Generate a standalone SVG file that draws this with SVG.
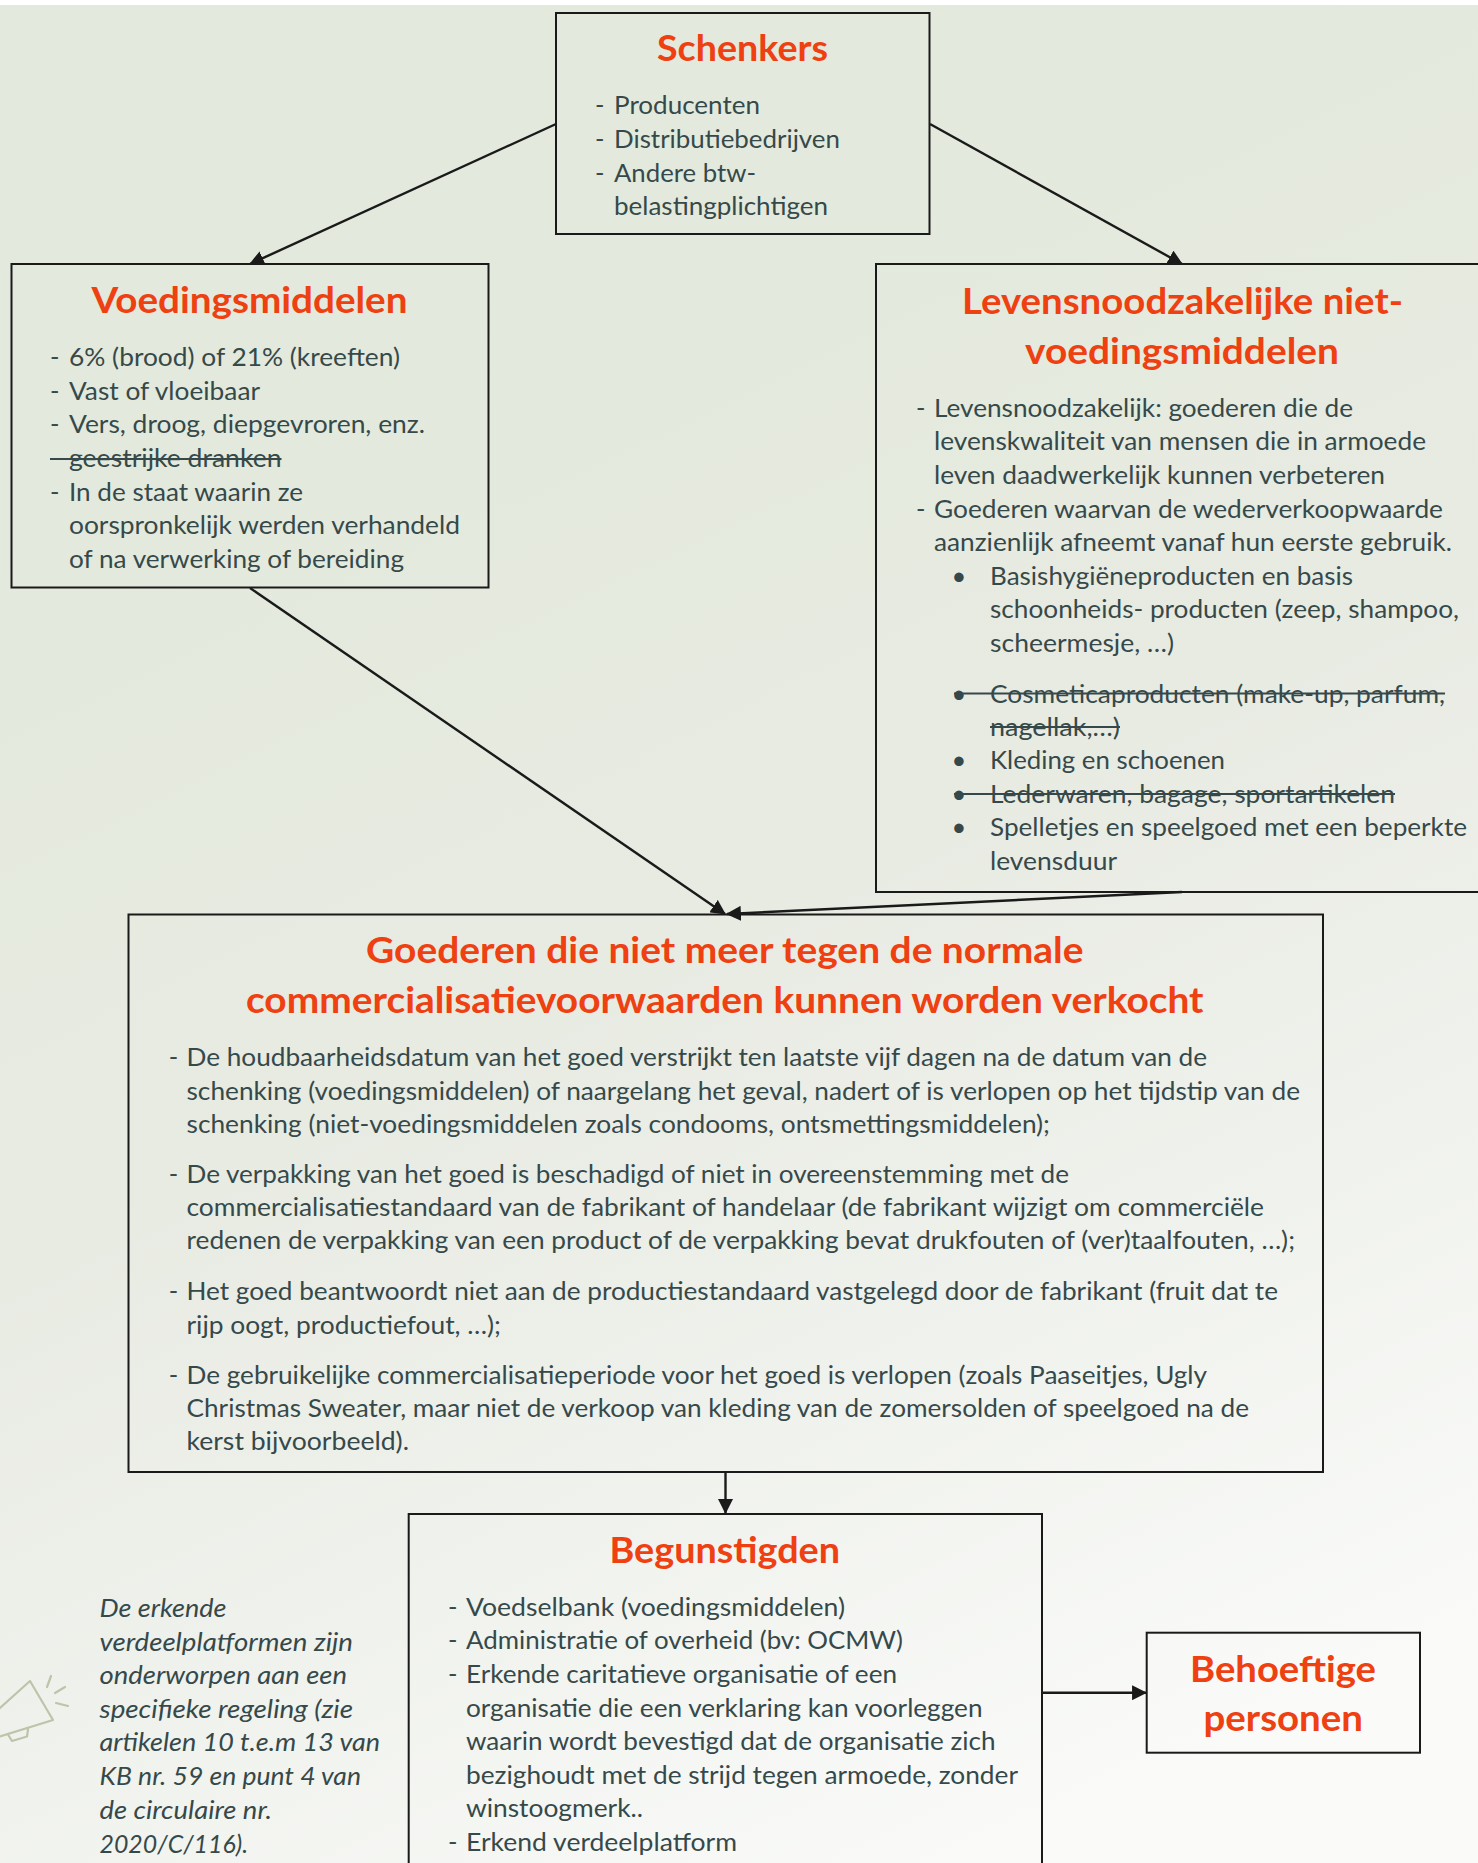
<svg xmlns="http://www.w3.org/2000/svg" width="1478" height="1863" viewBox="0 0 1478 1863">
<style>
.box{fill:none;stroke:#1a1a1a;stroke-width:2}
.t{font-family:Lato,"Open Sans",sans-serif;font-size:25.5px;fill:#36494a}
.i{font-style:italic}
.h{font-family:Lato,"Open Sans",sans-serif;font-size:37px;font-weight:700;fill:#ee4011}
.s{stroke:#36494a;stroke-width:1.8}
.c{fill:none;stroke:#1a1a1a;stroke-width:2.4;marker-end:url(#a)}
.m{fill:none;stroke:#bcc5a9;stroke-width:2.2;stroke-linejoin:round;stroke-linecap:round}
</style>
<defs>
<linearGradient id="bg" gradientUnits="userSpaceOnUse" x1="300" y1="400" x2="1000" y2="1863"><stop offset="0" stop-color="#e3e9dc"/><stop offset="0.4" stop-color="#e8ebe2"/><stop offset="0.67" stop-color="#eff1ec"/><stop offset="1" stop-color="#fafbf9"/></linearGradient>
<marker id="a" viewBox="0 0 14 14" refX="13" refY="7" markerUnits="userSpaceOnUse" markerWidth="15" markerHeight="15" orient="auto"><path d="M0 0L14 7L0 14Z" fill="#1a1a1a"/></marker>
</defs>
<rect width="1478" height="1863" fill="#fff"/>
<rect y="5" width="1478" height="1858" fill="url(#bg)"/>
<g id="connectors">
<path class="c" d="M556 124L250 264"/>
<path class="c" d="M930 124L1182 264"/>
<path class="c" d="M250 588L725 914"/>
<path class="c" d="M1182 892L727 914"/>
<path class="c" d="M725.500 1472V1513"/>
<path class="c" d="M1042 1692.700H1146"/>
</g>
<g id="schenkers">
<rect class="box" x="556" y="13" width="373.500" height="221"/>
<text class="h" x="657" y="60.500" textLength="171" lengthAdjust="spacingAndGlyphs">Schenkers</text>
<text class="t" x="595" y="114.200">-</text><text class="t" x="614" y="114.200" textLength="146" lengthAdjust="spacingAndGlyphs">Producenten</text>
<text class="t" x="595" y="148">-</text><text class="t" x="614" y="148" textLength="226" lengthAdjust="spacingAndGlyphs">Distributiebedrijven</text>
<text class="t" x="595" y="181.700">-</text><text class="t" x="614" y="181.700" textLength="142" lengthAdjust="spacingAndGlyphs">Andere btw-</text>
<text class="t" x="614" y="215.200" textLength="214" lengthAdjust="spacingAndGlyphs">belastingplichtigen</text>
</g>
<g id="voedingsmiddelen">
<rect class="box" x="11.500" y="264" width="477" height="323.500"/>
<text class="h" x="91.500" y="312.500" textLength="316" lengthAdjust="spacingAndGlyphs">Voedingsmiddelen</text>
<text class="t" x="50" y="365.900">-</text><text class="t" x="69" y="365.900" textLength="331" lengthAdjust="spacingAndGlyphs">6% (brood) of 21% (kreeften)</text>
<text class="t" x="50" y="399.700">-</text><text class="t" x="69" y="399.700" textLength="191" lengthAdjust="spacingAndGlyphs">Vast of vloeibaar</text>
<text class="t" x="50" y="433.200">-</text><text class="t" x="69" y="433.200" textLength="356" lengthAdjust="spacingAndGlyphs">Vers, droog, diepgevroren, enz.</text>
<text class="t" x="50" y="466.900">-</text><text class="t" x="69" y="466.900" textLength="212.500" lengthAdjust="spacingAndGlyphs">geestrijke dranken</text>
<line class="s" x1="50" y1="459" x2="281.500" y2="459"/>
<text class="t" x="50" y="500.700">-</text><text class="t" x="69" y="500.700" textLength="234" lengthAdjust="spacingAndGlyphs">In de staat waarin ze</text>
<text class="t" x="69" y="534.200" textLength="391" lengthAdjust="spacingAndGlyphs">oorspronkelijk werden verhandeld</text>
<text class="t" x="69" y="568.200" textLength="335" lengthAdjust="spacingAndGlyphs">of na verwerking of bereiding</text>
</g>
<g id="levensnoodzakelijk">
<path class="box" d="M1479 264H876V892H1479"/>
<text class="h" x="962" y="314" textLength="441" lengthAdjust="spacingAndGlyphs">Levensnoodzakelijke niet-</text>
<text class="h" x="1025" y="364" textLength="314" lengthAdjust="spacingAndGlyphs">voedingsmiddelen</text>
<text class="t" x="916" y="416.900">-</text><text class="t" x="934" y="416.900" textLength="419" lengthAdjust="spacingAndGlyphs">Levensnoodzakelijk: goederen die de</text>
<text class="t" x="934" y="450.200" textLength="492" lengthAdjust="spacingAndGlyphs">levenskwaliteit van mensen die in armoede</text>
<text class="t" x="934" y="484.200" textLength="451" lengthAdjust="spacingAndGlyphs">leven daadwerkelijk kunnen verbeteren</text>
<text class="t" x="916" y="517.800">-</text><text class="t" x="934" y="517.800" textLength="509" lengthAdjust="spacingAndGlyphs">Goederen waarvan de wederverkoopwaarde</text>
<text class="t" x="934" y="551.200" textLength="518" lengthAdjust="spacingAndGlyphs">aanzienlijk afneemt vanaf hun eerste gebruik.</text>
<text class="t" x="951.500" y="585">•</text><text class="t" x="990" y="585" textLength="363" lengthAdjust="spacingAndGlyphs">Basishygiëneproducten en basis</text>
<text class="t" x="990" y="618" textLength="469" lengthAdjust="spacingAndGlyphs">schoonheids- producten (zeep, shampoo,</text>
<text class="t" x="990" y="652" textLength="184" lengthAdjust="spacingAndGlyphs">scheermesje, …)</text>
<text class="t" x="951.500" y="703">•</text><text class="t" x="990" y="703" textLength="455" lengthAdjust="spacingAndGlyphs">Cosmeticaproducten (make-up, parfum,</text>
<line class="s" x1="954" y1="693.500" x2="1445" y2="693.500"/>
<text class="t" x="990" y="736" textLength="130" lengthAdjust="spacingAndGlyphs">nagellak,…)</text>
<line class="s" x1="990" y1="727" x2="1120" y2="727"/>
<text class="t" x="951.500" y="769">•</text><text class="t" x="990" y="769" textLength="235" lengthAdjust="spacingAndGlyphs">Kleding en schoenen</text>
<text class="t" x="951.500" y="803">•</text><text class="t" x="990" y="803" textLength="405" lengthAdjust="spacingAndGlyphs">Lederwaren, bagage, sportartikelen</text>
<line class="s" x1="954" y1="794" x2="1395" y2="794"/>
<text class="t" x="951.500" y="836">•</text><text class="t" x="990" y="836" textLength="477" lengthAdjust="spacingAndGlyphs">Spelletjes en speelgoed met een beperkte</text>
<text class="t" x="990" y="870" textLength="127" lengthAdjust="spacingAndGlyphs">levensduur</text>
</g>
<g id="goederen">
<rect class="box" x="128.500" y="914.500" width="1194.500" height="557.500"/>
<text class="h" x="366" y="962.500" textLength="717.500" lengthAdjust="spacingAndGlyphs">Goederen die niet meer tegen de normale</text>
<text class="h" x="246" y="1013" textLength="957.500" lengthAdjust="spacingAndGlyphs">commercialisatievoorwaarden kunnen worden verkocht</text>
<text class="t" x="168.700" y="1066.200">-</text><text class="t" x="186.500" y="1066.200" textLength="1020.500" lengthAdjust="spacingAndGlyphs">De houdbaarheidsdatum van het goed verstrijkt ten laatste vijf dagen na de datum van de</text>
<text class="t" x="186.500" y="1099.500" textLength="1113.500" lengthAdjust="spacingAndGlyphs">schenking (voedingsmiddelen) of naargelang het geval, nadert of is verlopen op het tijdstip van de</text>
<text class="t" x="186.500" y="1132.800" textLength="863.500" lengthAdjust="spacingAndGlyphs">schenking (niet-voedingsmiddelen zoals condooms, ontsmettingsmiddelen);</text>
<text class="t" x="168.700" y="1182.800">-</text><text class="t" x="186.500" y="1182.800" textLength="882.500" lengthAdjust="spacingAndGlyphs">De verpakking van het goed is beschadigd of niet in overeenstemming met de</text>
<text class="t" x="186.500" y="1216" textLength="1077.500" lengthAdjust="spacingAndGlyphs">commercialisatiestandaard van de fabrikant of handelaar (de fabrikant wijzigt om commerciële</text>
<text class="t" x="186.500" y="1249.300" textLength="1108.500" lengthAdjust="spacingAndGlyphs">redenen de verpakking van een product of de verpakking bevat drukfouten of (ver)taalfouten, …);</text>
<text class="t" x="168.700" y="1300.200">-</text><text class="t" x="186.500" y="1300.200" textLength="1091.500" lengthAdjust="spacingAndGlyphs">Het goed beantwoordt niet aan de productiestandaard vastgelegd door de fabrikant (fruit dat te</text>
<text class="t" x="186.500" y="1333.600" textLength="314.500" lengthAdjust="spacingAndGlyphs">rijp oogt, productiefout, …);</text>
<text class="t" x="168.700" y="1383.500">-</text><text class="t" x="186.500" y="1383.500" textLength="1020.500" lengthAdjust="spacingAndGlyphs">De gebruikelijke commercialisatieperiode voor het goed is verlopen (zoals Paaseitjes, Ugly</text>
<text class="t" x="186.500" y="1416.700" textLength="1062.500" lengthAdjust="spacingAndGlyphs">Christmas Sweater, maar niet de verkoop van kleding van de zomersolden of speelgoed na de</text>
<text class="t" x="186.500" y="1450" textLength="222.500" lengthAdjust="spacingAndGlyphs">kerst bijvoorbeeld).</text>
</g>
<g id="begunstigden">
<path class="box" d="M408.700 1864V1514H1042V1864"/>
<text class="h" x="609.500" y="1563" textLength="230.500" lengthAdjust="spacingAndGlyphs">Begunstigden</text>
<text class="t" x="448" y="1615.700">-</text><text class="t" x="466" y="1615.700" textLength="379" lengthAdjust="spacingAndGlyphs">Voedselbank (voedingsmiddelen)</text>
<text class="t" x="448" y="1649.200">-</text><text class="t" x="466" y="1649.200" textLength="437" lengthAdjust="spacingAndGlyphs">Administratie of overheid (bv: OCMW)</text>
<text class="t" x="448" y="1683.200">-</text><text class="t" x="466" y="1683.200" textLength="431" lengthAdjust="spacingAndGlyphs">Erkende caritatieve organisatie of een</text>
<text class="t" x="466" y="1716.700" textLength="516.500" lengthAdjust="spacingAndGlyphs">organisatie die een verklaring kan voorleggen</text>
<text class="t" x="466" y="1750.200" textLength="529.500" lengthAdjust="spacingAndGlyphs">waarin wordt bevestigd dat de organisatie zich</text>
<text class="t" x="466" y="1783.700" textLength="552" lengthAdjust="spacingAndGlyphs">bezighoudt met de strijd tegen armoede, zonder</text>
<text class="t" x="466" y="1817.200" textLength="177" lengthAdjust="spacingAndGlyphs">winstoogmerk..</text>
<text class="t" x="448" y="1851.200">-</text><text class="t" x="466" y="1851.200" textLength="271" lengthAdjust="spacingAndGlyphs">Erkend verdeelplatform</text>
</g>
<g id="behoeftige">
<rect class="box" x="1146.700" y="1632.700" width="273.300" height="120"/>
<text class="h" x="1190" y="1682" textLength="186" lengthAdjust="spacingAndGlyphs">Behoeftige</text>
<text class="h" x="1203.500" y="1731" textLength="159.500" lengthAdjust="spacingAndGlyphs">personen</text>
</g>
<g id="opmerking">
<text class="t i" x="99.500" y="1617" textLength="127" lengthAdjust="spacingAndGlyphs">De erkende</text>
<text class="t i" x="99.500" y="1650.600" textLength="253.500" lengthAdjust="spacingAndGlyphs">verdeelplatformen zijn</text>
<text class="t i" x="99.500" y="1684.200" textLength="247.500" lengthAdjust="spacingAndGlyphs">onderworpen aan een</text>
<text class="t i" x="99.500" y="1717.800" textLength="253.500" lengthAdjust="spacingAndGlyphs">specifieke regeling (zie</text>
<text class="t i" x="99.500" y="1751.400" textLength="280.500" lengthAdjust="spacingAndGlyphs">artikelen 10 t.e.m 13 van</text>
<text class="t i" x="99.500" y="1785" textLength="261.500" lengthAdjust="spacingAndGlyphs">KB nr. 59 en punt 4 van</text>
<text class="t i" x="99.500" y="1818.600" textLength="172.500" lengthAdjust="spacingAndGlyphs">de circulaire nr.</text>
<text class="t i" x="99.500" y="1852.500" textLength="148.500" lengthAdjust="spacingAndGlyphs">2020/C/116).</text>
</g>
<g id="megafoon">
<path class="m" d="M0 1708L30 1681L53 1720L0 1736.500M8 1734.500L12 1741L27 1736.500L28 1729.500"/>
<path class="m" d="M51 1676L47 1687M65 1687L55 1693M68 1706L56 1703"/>
</g>
</svg>
